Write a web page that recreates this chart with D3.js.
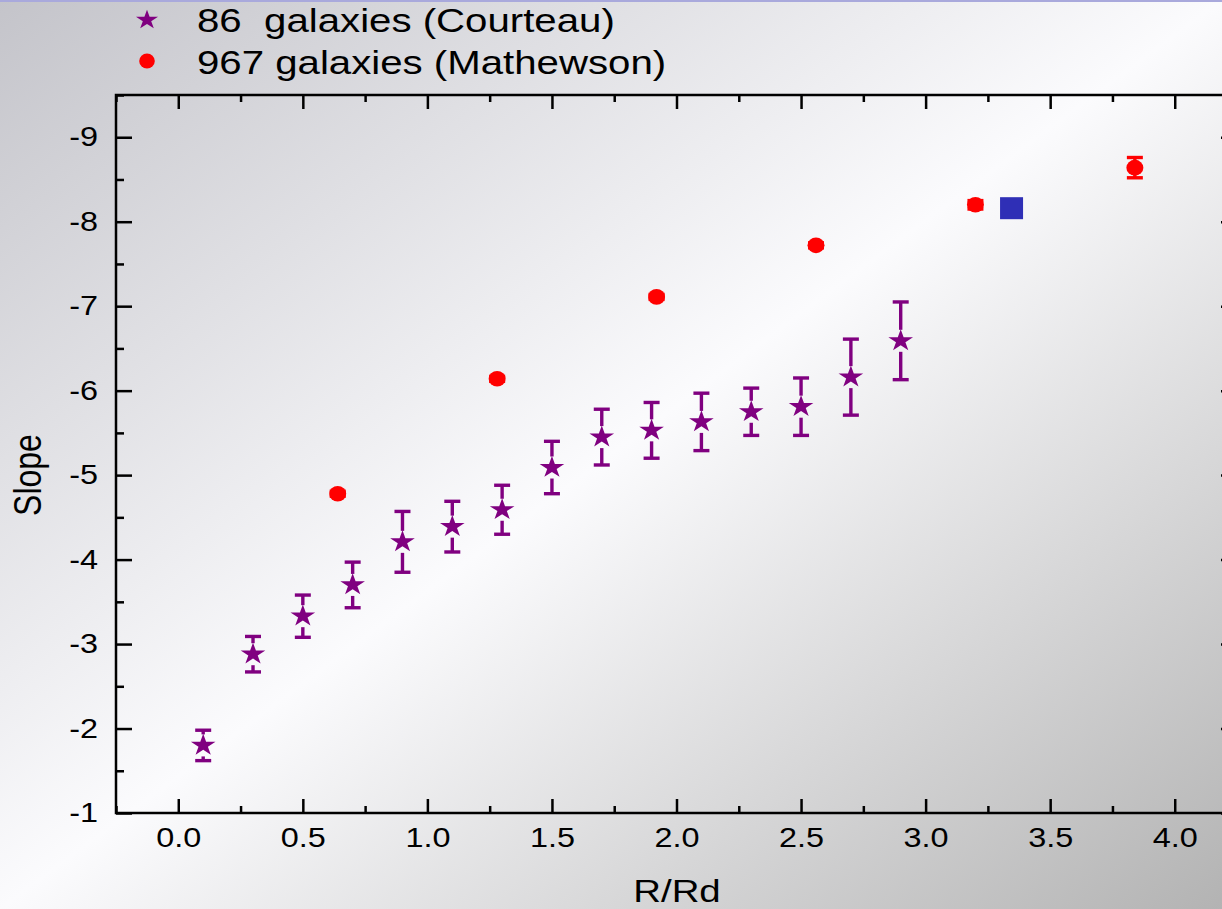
<!DOCTYPE html>
<html>
<head>
<meta charset="utf-8">
<script src="https://cdn.jsdelivr.net/npm/d3@7"></script>
<style>
    body { margin: 0; overflow: hidden; }
    svg text { font-family: "Liberation Sans", Arial, sans-serif; fill: #000; }
</style>
</head>
<body>
<div id="chart"></div>
<script>
// Courteau sample (stars)
const courteauR = [0.1, 0.3, 0.5, 0.7, 0.9, 1.1, 1.3, 1.5, 1.7, 1.9, 2.1, 2.3, 2.5, 2.7, 2.9];
const courteauSlope = [-1.80, -2.88, -3.33, -3.70, -4.21, -4.39, -4.59, -5.09, -5.45, -5.53, -5.63, -5.75, -5.81, -6.16, -6.59];
const courteauErr = [0.18, 0.21, 0.25, 0.27, 0.36, 0.30, 0.29, 0.31, 0.33, 0.33, 0.34, 0.28, 0.34, 0.45, 0.46];

// Mathewson sample (circles)
const mathewsonR = [0.64, 1.28, 1.92, 2.56, 3.20, 3.84];
const mathewsonSlope = [-4.78, -6.14, -7.11, -7.72, -8.20, -8.64];
const mathewsonErr = [0.03, 0.03, 0.03, 0.03, 0.05, 0.12];

// single extra point (blue square)
const squareR = [3.345];
const squareSlope = [-8.16];

const xTicks = [0.0, 0.5, 1.0, 1.5, 2.0, 2.5, 3.0, 3.5, 4.0];
const yTicks = [-1, -2, -3, -4, -5, -6, -7, -8, -9];
const legendLabels = ["86  galaxies (Courteau)", "967 galaxies (Mathewson)"];

const W = 1222, H = 909;
const plot = {left: 116, right: 1237, top: 95, bottom: 813};
const WIDEN = 1.2; // the original picture is stretched sideways

function makeScales() {
    const x = d3.scaleLinear().domain([-0.25, 4.25]).range([plot.left, plot.right]);
    const y = d3.scaleLinear().domain([-1, -9.5]).range([plot.bottom, plot.top]);
    return {x, y};
}

function makeSvg() {
    const svg = d3.select("#chart").append("svg")
        .attr("width", W)
        .attr("height", H);
    const defs = svg.append("defs");
    const grad = defs.append("linearGradient")
        .attr("id", "bg")
        .attr("x1", 0).attr("y1", 0)
        .attr("x2", 1).attr("y2", 1);
    grad.append("stop").attr("offset", 0).attr("stop-color", "#c4c4ca");
    grad.append("stop").attr("offset", 0.5).attr("stop-color", "#fbfbfd");
    grad.append("stop").attr("offset", 1).attr("stop-color", "#b3b3b3");
    svg.append("rect").attr("width", W).attr("height", H).attr("fill", "url(#bg)");
    // thin border line along the top
    svg.append("rect").attr("width", W).attr("height", 2).attr("fill", "#a9a9dc");
    return svg;
}

// stretch text sideways about its own anchor point
function widen(sel) {
    sel.each(function () {
        const t = d3.select(this);
        const x = +t.attr("x") || 0;
        t.attr("x", x / WIDEN).attr("transform", `scale(${WIDEN},1)`);
    });
}

function drawAxes(svg, s) {
    const minorX = d3.range(-0.25, 4.26, 0.25).filter(v => Math.abs(v * 2 - Math.round(v * 2)) > 1e-6);
    const minorY = d3.range(-1.5, -9.6, -1);

    const axisStyle = (g) => {
        g.select(".domain").remove();
        g.selectAll("line").attr("stroke", "#000").attr("stroke-width", 2.5);
        g.selectAll("text").attr("font-size", 27).attr("fill", "#000").call(widen);
    };

    // bottom
    svg.append("g").attr("transform", `translate(0,${plot.bottom})`)
        .call(d3.axisBottom(s.x).tickValues(xTicks).tickSize(-14).tickPadding(15).tickFormat(d => d.toFixed(1)))
        .call(axisStyle);
    svg.append("g").attr("transform", `translate(0,${plot.bottom})`)
        .call(d3.axisBottom(s.x).tickValues(minorX).tickSize(-7).tickFormat(""))
        .call(axisStyle);
    // top
    svg.append("g").attr("transform", `translate(0,${plot.top})`)
        .call(d3.axisTop(s.x).tickValues(xTicks).tickSize(-14).tickFormat(""))
        .call(axisStyle);
    svg.append("g").attr("transform", `translate(0,${plot.top})`)
        .call(d3.axisTop(s.x).tickValues(minorX).tickSize(-7).tickFormat(""))
        .call(axisStyle);
    // left
    svg.append("g").attr("transform", `translate(${plot.left},0)`)
        .call(d3.axisLeft(s.y).tickValues(yTicks).tickSize(-16).tickPadding(18).tickFormat(d => String(d)))
        .call(axisStyle);
    svg.append("g").attr("transform", `translate(${plot.left},0)`)
        .call(d3.axisLeft(s.y).tickValues(minorY).tickSize(-8).tickFormat(""))
        .call(axisStyle);
    // right
    svg.append("g").attr("transform", `translate(${plot.right},0)`)
        .call(d3.axisRight(s.y).tickValues(yTicks).tickSize(-16).tickFormat(""))
        .call(axisStyle);
    svg.append("g").attr("transform", `translate(${plot.right},0)`)
        .call(d3.axisRight(s.y).tickValues(minorY).tickSize(-8).tickFormat(""))
        .call(axisStyle);

    // frame
    svg.append("rect")
        .attr("x", plot.left).attr("y", plot.top)
        .attr("width", plot.right - plot.left).attr("height", plot.bottom - plot.top)
        .attr("fill", "none").attr("stroke", "#000").attr("stroke-width", 2.5);

    svg.append("text")
        .attr("x", 677).attr("y", 902)
        .attr("text-anchor", "middle").attr("font-size", 32)
        .text("R/Rd")
        .call(widen);
    svg.append("text")
        .attr("transform", `translate(41,475) rotate(-90) scale(1,${WIDEN})`)
        .attr("text-anchor", "middle").attr("font-size", 32)
        .text("Slope");
}

function drawErrorBars(svg, xs, ys, errs, s, color, gap) {
    const capW = 16;
    const g = svg.append("g").attr("stroke", color).attr("stroke-width", 3.4).attr("fill", "none");
    xs.forEach((r, i) => {
        const cx = s.x(r);
        const yTop = s.y(ys[i] - errs[i]);
        const yBot = s.y(ys[i] + errs[i]);
        const cy = s.y(ys[i]);
        if (cy - yTop > gap) {
            g.append("line").attr("x1", cx).attr("x2", cx).attr("y1", yTop).attr("y2", cy - gap);
            g.append("line").attr("x1", cx).attr("x2", cx).attr("y1", cy + gap).attr("y2", yBot);
        }
        g.append("line").attr("x1", cx - capW / 2).attr("x2", cx + capW / 2).attr("y1", yTop).attr("y2", yTop);
        g.append("line").attr("x1", cx - capW / 2).attr("x2", cx + capW / 2).attr("y1", yBot).attr("y2", yBot);
    });
}

function drawMarks(svg, s) {
    const star = d3.symbol().type(d3.symbolStar).size(150);

    drawErrorBars(svg, courteauR, courteauSlope, courteauErr, s, "#800080", 11);
    svg.append("g").selectAll("path")
        .data(courteauR.map((r, i) => ({r, v: courteauSlope[i]})))
        .enter().append("path")
        .attr("d", star)
        .attr("transform", d => `translate(${s.x(d.r)},${s.y(d.v)}) scale(1.12,1)`)
        .attr("fill", "#800080");

    drawErrorBars(svg, mathewsonR, mathewsonSlope, mathewsonErr, s, "#ff0000", 4);
    svg.append("g").selectAll("ellipse")
        .data(mathewsonR.map((r, i) => ({r, v: mathewsonSlope[i]})))
        .enter().append("ellipse")
        .attr("cx", d => s.x(d.r))
        .attr("cy", d => s.y(d.v))
        .attr("rx", 8.5).attr("ry", 7.8)
        .attr("fill", "#ff0000");

    svg.append("g").selectAll("rect")
        .data(squareR.map((r, i) => ({r, v: squareSlope[i]})))
        .enter().append("rect")
        .attr("x", d => s.x(d.r) - 11.5)
        .attr("y", d => s.y(d.v) - 11)
        .attr("width", 23).attr("height", 22)
        .attr("fill", "#2f2fb6");
}

function drawLegend(svg) {
    const g = svg.append("g");
    g.append("path")
        .attr("d", d3.symbol().type(d3.symbolStar).size(120))
        .attr("transform", "translate(147,20) scale(1.12,1)")
        .attr("fill", "#800080");
    g.append("ellipse")
        .attr("cx", 147).attr("cy", 61).attr("rx", 7.8).attr("ry", 7.5)
        .attr("fill", "#ff0000");
    g.selectAll("text")
        .data(legendLabels)
        .enter().append("text")
        .attr("x", 197)
        .attr("y", (d, i) => 32 + i * 42)
        .attr("font-size", 33.5)
        .style("white-space", "pre")
        .text(d => d)
        .call(widen);
}

const scales = makeScales();
const svg = makeSvg();
drawAxes(svg, scales);
drawMarks(svg, scales);
drawLegend(svg);
</script>
</body>
</html>
